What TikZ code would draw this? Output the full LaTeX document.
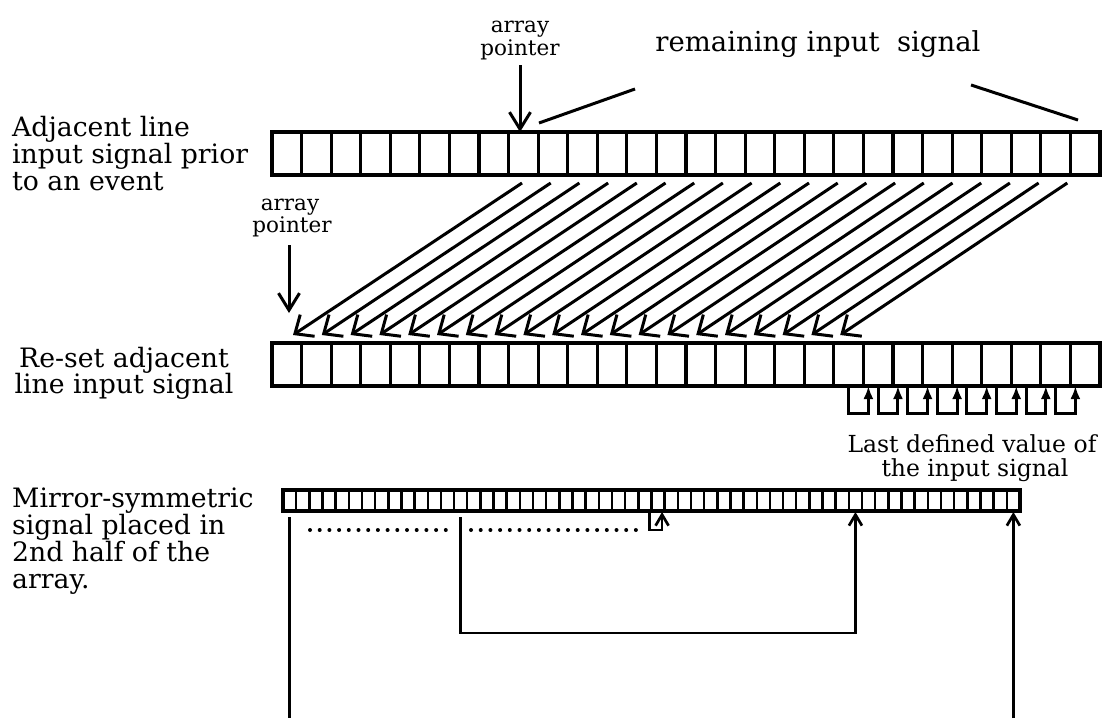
\documentclass[tikz,border=0pt]{standalone}
\usepackage{fontspec}
\setmainfont{DejaVu Serif}
\usetikzlibrary{arrows.meta,calc}
\begin{document}
\begin{tikzpicture}[x=1pt,y=-1pt,
  cellbig/.style={draw, line width=3.1pt, minimum width=29.57pt, minimum height=43pt, inner sep=0pt, outer sep=0pt},
  cellsmall/.style={draw, line width=2.5pt, minimum width=13.16pt, minimum height=21pt, inner sep=0pt, outer sep=0pt},
  conn/.style={line width=3pt},
  ptrarrow/.style={line width=3pt, -{Straight Barb[length=17pt,width=21pt,line width=3pt]}},
  diagarrow/.style={line width=3pt, -{Straight Barb[length=15pt,width=26pt,line width=3pt]}},
  looparrow/.style={line width=3pt, -{Latex[length=13pt,width=10pt]}},
  smallarrow/.style={line width=2.7pt, -{Straight Barb[length=11pt,width=13pt,line width=2.7pt]}},
  dotline/.style={line width=4pt, line cap=round, dash pattern=on 0pt off 9.7pt},
  lbl/.style={font=\fontsize{26.7}{30}\selectfont, inner sep=0pt},
  lastlbl/.style={font=\fontsize{23.5}{27}\selectfont, inner sep=0pt},
  remlbl/.style={font=\fontsize{27.5}{32}\selectfont, inner sep=0pt},
  smalllbl/.style={font=\fontsize{21.5}{24}\selectfont, inner sep=0pt}
]
\useasboundingbox (0,0) rectangle (1103,718);
\coordinate (bot) at (0,718);

% arrays
\foreach \i in {0,...,27} {
  \node[cellbig] (t\i) at ({272+(\i+0.5)*29.57},153.5) {};
  \node[cellbig] (m\i) at ({272+(\i+0.5)*29.57},364.5) {};
}
\foreach \i in {0,...,55} {
  \node[cellsmall] (b\i) at ({283+(\i+0.5)*13.16},500.5) {};
}
\draw[line width=3.3pt] (b0.north west) rectangle (b55.south east);

% labels on the left
\node[lbl, anchor=base west] (la1) at (12,136) {Adjacent line};
\node[lbl, anchor=base west] (la2) at (12,163) {input signal prior};
\node[lbl, anchor=base west] (la3) at (12,190) {to an event};
\node[lbl, anchor=base] (lb1) at (124,367) {Re-set adjacent};
\node[lbl, anchor=base] (lb2) at (124,393) {line input signal};
\node[lbl, anchor=base west] (lc1) at (12,507) {Mirror-symmetric};
\node[lbl, anchor=base west] (lc2) at (12,534) {signal placed in};
\node[lbl, anchor=base west] (lc3) at (12,561) {2nd half of the};
\node[lbl, anchor=base west] (lc4) at (12,588) {array.};
\node[lastlbl, anchor=base] (ld1) at (972,452) {Last defined value of};
\node[lastlbl, anchor=base] (ld2) at (975,476) {the input signal};

% top pointer
\node[smalllbl, anchor=base] (ap1a) at (520,32) {array};
\node[smalllbl, anchor=base] (ap1) at (520,55) {pointer};
\coordinate (p1) at (520,65);
\draw[ptrarrow] (p1) -- (p1 |- t8.north);

% remaining input signal
\node[remlbl, anchor=base] (rem) at (818,51) {remaining input\ \ signal};
\coordinate (rl1) at (635,89);
\coordinate (rl2) at (539,123);
\coordinate (rr1) at (971,85);
\coordinate (rr2) at (1078,120);
\draw[conn] (rl1) -- (rl2);
\draw[conn] (rr1) -- (rr2);

% lower pointer
\node[smalllbl, anchor=base] (ap2a) at (290,210) {array};
\node[smalllbl, anchor=base] (ap2) at (292,232) {pointer};
\coordinate (p2s) at (289,245);
\coordinate (p2) at (289,313);
\draw[ptrarrow] (p2s) -- (p2);

% diagonal arrows
\foreach \j in {0,...,19} {
  \coordinate (ds\j) at ({522+\j*28.7},183);
  \coordinate (de\j) at ({293+\j*28.8},335);
  \draw[diagarrow] (ds\j) -- (de\j);
}

% loops copying last defined value
\foreach \k [evaluate=\k as \p using int(\k-1)] in {20,...,27} {
  \draw[looparrow] (m\p.south) -- ++(0,27) -| ([xshift=5pt]m\k.south west);
}

% mirror connectors
\draw[conn] ([yshift=-6pt]b0.south) -- (b0.south |- bot);
\draw[smallarrow] (b55.south |- bot) -- ([yshift=-1pt]b55.south);
\draw[smallarrow] ([yshift=-6pt]b13.south) -- ($(b13.south |- bot)+(0,-85)$) -| ([yshift=-1pt]b43.south);
\coordinate (sl) at ([xshift=-2pt]b27.south east);
\draw[smallarrow] (sl) -- ++(0,19) -| ([xshift=4pt,yshift=-1pt]b28.south);

% dotted lines
\coordinate (d1a) at (310,530);
\coordinate (d1b) at (449,530);
\coordinate (d2a) at (471,530);
\coordinate (d2b) at (643,530);
\draw[dotline] (d1a) -- (d1b);
\draw[dotline] (d2a) -- (d2b);
\end{tikzpicture}
\end{document}
